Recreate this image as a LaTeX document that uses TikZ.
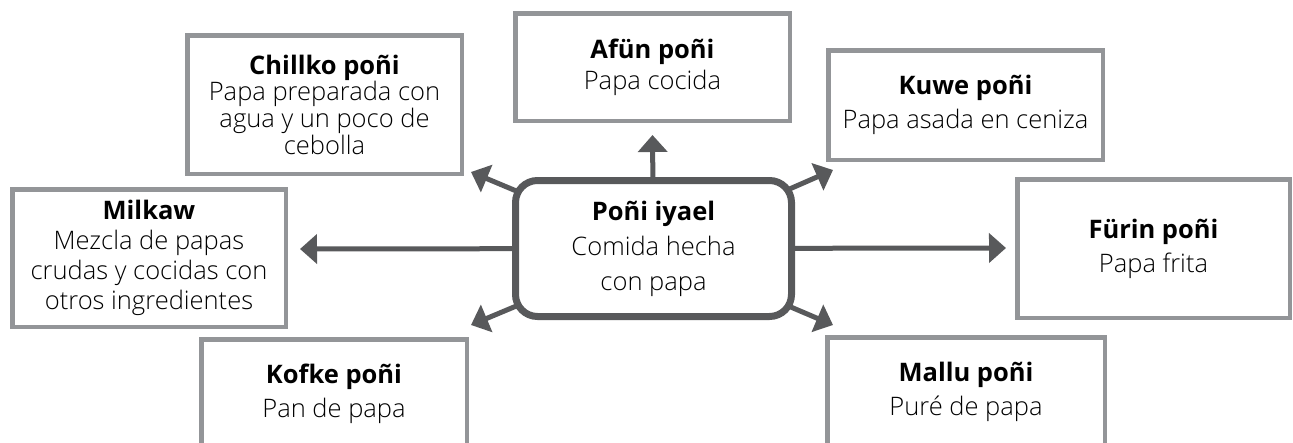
\documentclass[tikz,border=0pt]{standalone}
\usepackage{fontspec}
\setmainfont{Open Sans}[UprightFont=* Light, BoldFont=* Bold]
\usetikzlibrary{arrows.meta}
\definecolor{boxgray}{RGB}{147,149,152}
\definecolor{arrgray}{RGB}{88,89,91}
\pgfdeclarelayer{bg}
\pgfsetlayers{bg,main}
\begin{document}
\begin{tikzpicture}[x=1pt,y=-1pt,
  fbox/.style={draw=boxgray, line width=4.5pt, fill=white, inner sep=0pt, align=center, font=\fontsize{25.5}{34}\selectfont},
  hub/.style={draw=arrgray, line width=7pt, rounded corners=22pt, fill=white, align=center, font=\fontsize{25.5}{35}\selectfont, minimum width=276pt, minimum height=136pt, inner sep=0pt},
  arr/.style={draw=arrgray, line width=5pt, -{Triangle[length=17pt,width=29pt]}}]
\useasboundingbox (0,0) rectangle (1293,442);
\clip (0,0) rectangle (1293,442);
\node[hub] (c) at (653.5,248.5) {\textbf{Poñi iyael}\\Comida hecha\\con papa};
\node[fbox, minimum width=274.5pt, minimum height=138.5pt, font=\fontsize{25.5}{26.7}\selectfont] (chillko) at (324.5,104.5) {\textbf{Chillko poñi}\\Papa preparada con\\agua y un poco de\\cebolla};
\node[fbox, minimum width=274.5pt, minimum height=107.5pt, font=\fontsize{25.5}{31}\selectfont] (afun) at (652.5,67) {\textbf{Afün poñi}\\Papa cocida};
\node[fbox, minimum width=274.5pt, minimum height=109.5pt] (kuwe) at (965.5,105) {\textbf{Kuwe poñi}\\Papa asada en ceniza};
\node[fbox, minimum width=273.5pt, minimum height=137.5pt, font=\fontsize{25.5}{30}\selectfont] (milkaw) at (149,258) {\textbf{Milkaw}\\Mezcla de papas\\crudas y cocidas con\\otros ingredientes};
\node[fbox, minimum width=272.5pt, minimum height=138.5pt] (furin) at (1153.5,248.5) {\textbf{Fürin poñi}\\Papa frita};
\node[fbox, minimum width=265.5pt, minimum height=109.5pt] (kofke) at (334,394) {\textbf{Kofke poñi}\\Pan de papa};
\node[fbox, minimum width=277.5pt, minimum height=109.5pt] (mallu) at (966,392) {\textbf{Mallu poñi}\\Puré de papa};
\coordinate (tup) at (652.5,135);
\coordinate (tul) at (471,172);
\coordinate (tur) at (833,170);
\coordinate (tl) at (300,249);
\coordinate (tr) at (1006,248);
\coordinate (tll) at (471,325);
\coordinate (tlr) at (833,325);
\begin{pgfonlayer}{bg}
\draw[arr] (c.center) -- (tup);
\draw[arr] (c.center) -- (tul);
\draw[arr] (c.center) -- (tur);
\draw[arr] (c.center) -- (tl);
\draw[arr] (c.center) -- (tr);
\draw[arr] (c.center) -- (tll);
\draw[arr] (c.center) -- (tlr);
\end{pgfonlayer}
\end{tikzpicture}
\end{document}
